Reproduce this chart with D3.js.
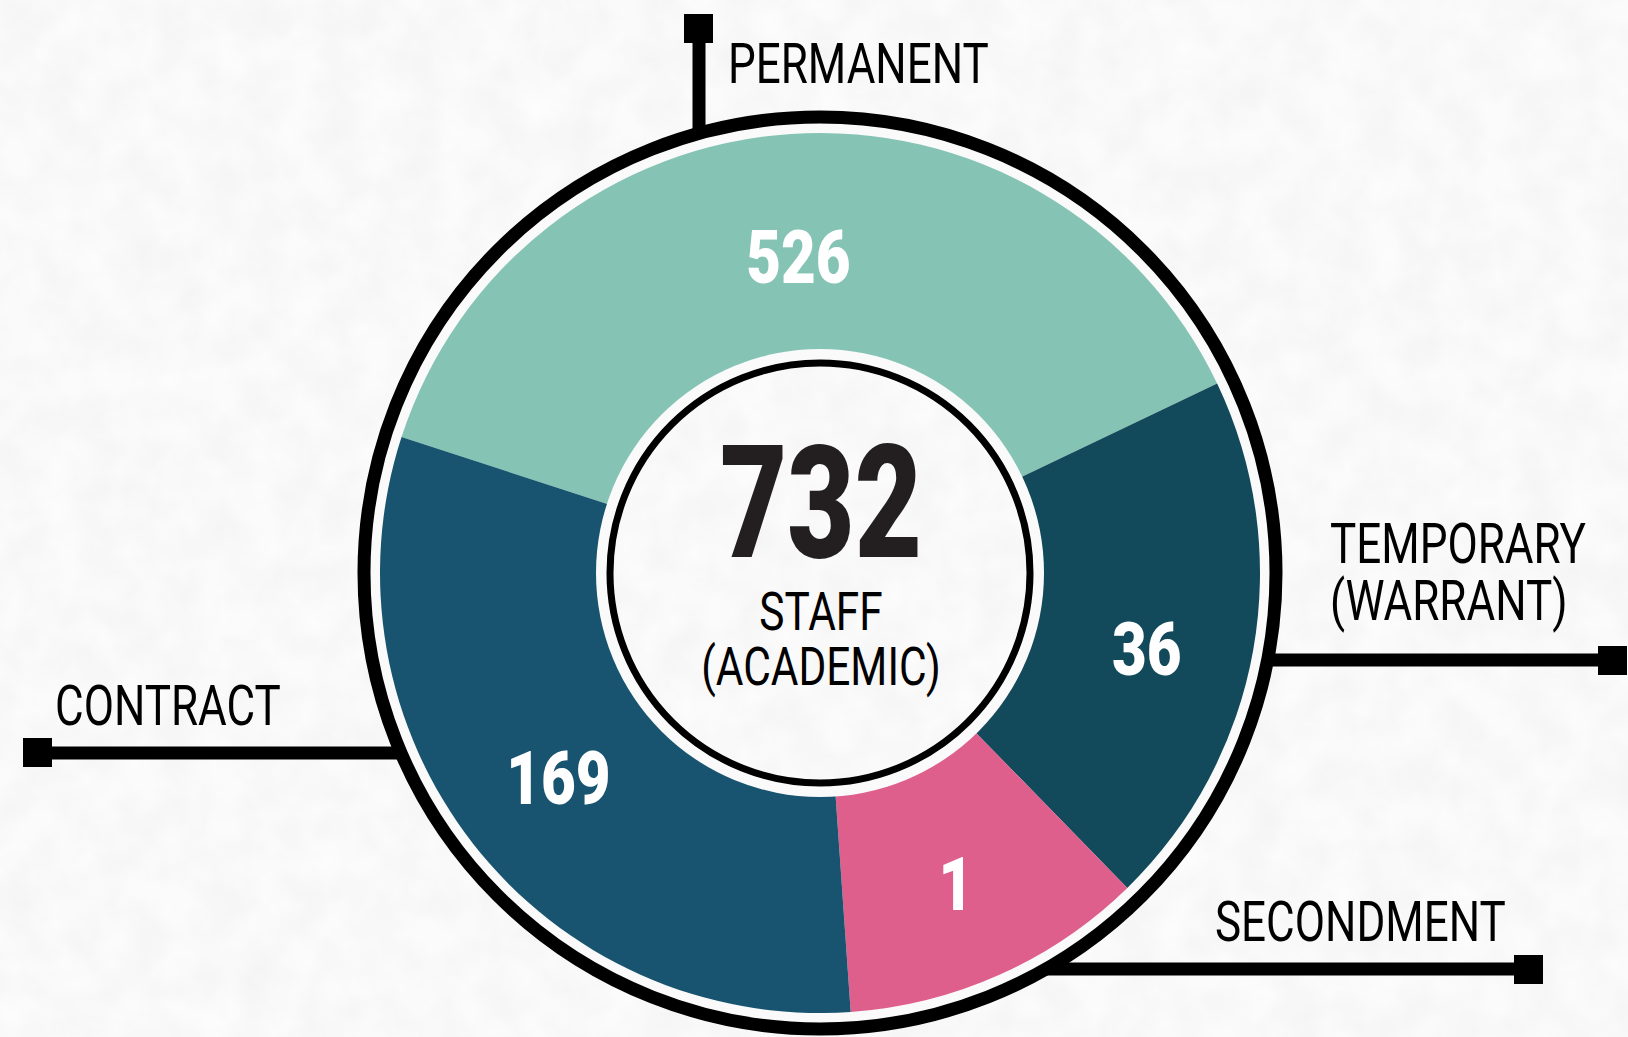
<!DOCTYPE html>
<meta charset="utf-8">
<body style="margin:0;background-color:#f3f3f3;">
<svg width="1628" height="1037"></svg>
<script src="https://cdn.jsdelivr.net/npm/d3@7"></script>
<script>

// --- data ---
var categories = ["PERMANENT", "TEMPORARY (WARRANT)", "SECONDMENT", "CONTRACT"];
var staffCounts = [526, 36, 1, 169];
// the original slices are not drawn to scale, these are the spans (degrees) as drawn
var drawnSpans = [136.5, 71.2, 40.3, 112];
var totalStaff = 732;
var centerLines = ["STAFF", "(ACADEMIC)"];

var colors = ["#85c4b4", "#134a5b", "#de5f8b", "#18546f"];
// small vertical nudges of the numbers, as placed in the original
var labelNudge = [14, 17, 7, 0];

var W = 1628, H = 1037;
var cx = 820, cy = 573;
var svg = d3.select("svg");

// paper texture
var defs = svg.append("defs");
var paper = defs.append("filter").attr("id", "paper")
	.attr("x", 0).attr("y", 0).attr("width", "100%").attr("height", "100%");
paper.append("feTurbulence").attr("type", "fractalNoise")
	.attr("baseFrequency", 0.025).attr("numOctaves", 3).attr("seed", 4).attr("result", "noise");
paper.append("feColorMatrix").attr("in", "noise").attr("type", "matrix")
	.attr("values", "0 0 0 0.09 0.9  0 0 0 0.09 0.9  0 0 0 0.09 0.9  0 0 0 0 1")
	.attr("result", "tex");
paper.append("feComposite").attr("in", "tex").attr("in2", "SourceGraphic").attr("operator", "in");

svg.append("rect").attr("width", W).attr("height", H).attr("fill", "#f3f3f3")
	.attr("filter", "url(#paper)");

// narrow fonts: squeeze a normal face horizontally
function label(g, txt, x, y, size, weight, sx, anchor, fill) {
	return g.append("text")
		.attr("transform", "translate(" + x + "," + y + ") scale(" + sx + ",1)")
		.attr("text-anchor", anchor)
		.attr("font-family", "Roboto, 'DejaVu Sans', sans-serif")
		.attr("font-size", size)
		.attr("font-weight", weight)
		.attr("fill", fill)
		.text(txt);
}

// --- callouts (leader line + square + label) ---
var callouts = [
	{ x1: 699, y1: 30, x2: 699, y2: 140, sq: [684, 14], tx: 728, ty: [83], lines: ["PERMANENT"] },
	{ x1: 1250, y1: 660, x2: 1610, y2: 660, sq: [1598, 646], tx: 1330, ty: [563, 620], lines: ["TEMPORARY", "(WARRANT)"] },
	{ x1: 40, y1: 753, x2: 400, y2: 753, sq: [23, 738], tx: 55, ty: [725], lines: ["CONTRACT"] },
	{ x1: 1040, y1: 969, x2: 1525, y2: 969, sq: [1514, 955], tx: 1215, ty: [941], lines: ["SECONDMENT"] }
];

var calloutGroup = svg.append("g");
callouts.forEach(function(c) {
	calloutGroup.append("line")
		.attr("x1", c.x1).attr("y1", c.y1).attr("x2", c.x2).attr("y2", c.y2)
		.attr("stroke", "#000").attr("stroke-width", 13);
	calloutGroup.append("rect")
		.attr("x", c.sq[0]).attr("y", c.sq[1]).attr("width", 29).attr("height", 29)
		.attr("fill", "#000");
	c.lines.forEach(function(t, i) {
		label(calloutGroup, t, c.tx, c.ty[i], 55, 400, 0.8, "start", "#000");
	});
});

var ring = svg.append("g").attr("transform", "translate(" + cx + "," + cy + ")");

// outer black ring with white gap
ring.append("circle").attr("r", 456)
	.attr("fill", "#fafafa").attr("stroke", "#000").attr("stroke-width", 13);

// slices
var rad = Math.PI / 180;
var pie = d3.pie().sort(null)
	.value(function(d) { return d.span; })
	.startAngle(-72 * rad).endAngle(288 * rad);

var sliceData = staffCounts.map(function(v, i) {
	return { count: v, span: drawnSpans[i], cat: categories[i], color: colors[i], nudge: labelNudge[i] };
});
var arcs = pie(sliceData);

var arc = d3.arc().innerRadius(222).outerRadius(440);
var labelArc = d3.arc().innerRadius(332).outerRadius(332);

ring.selectAll("path.slice").data(arcs).enter().append("path")
	.attr("class", "slice")
	.attr("d", arc)
	.attr("fill", function(d) { return d.data.color; });

// inner disc
ring.append("circle").attr("r", 224).attr("fill", "#fafafa");
ring.append("circle").attr("r", 210).attr("fill", "#f3f3f3")
	.attr("filter", "url(#paper)");
ring.append("circle").attr("r", 210).attr("fill", "none")
	.attr("stroke", "#000").attr("stroke-width", 7);

// slice numbers
arcs.forEach(function(d) {
	var p = labelArc.centroid(d);
	label(ring, d.data.count, p[0], p[1] + 27 + d.data.nudge, 75, 900, 0.8, "middle", "#fff");
});

// centre total
label(ring, totalStaff, 1, 557 - cy, 157, 900, 0.74, "middle", "#231f20");
label(ring, centerLines[0], 1, 630 - cy, 53, 400, 0.8, "middle", "#000");
label(ring, centerLines[1], 1, 685 - cy, 53, 400, 0.8, "middle", "#000");

</script>
</body>
